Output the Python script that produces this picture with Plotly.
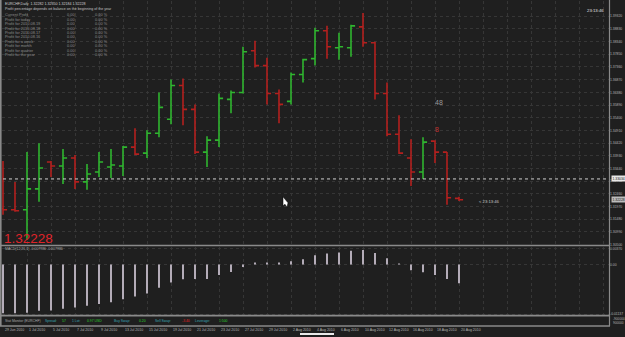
import plotly.graph_objects as go

W, H = 625, 337

# ---------------- data ----------------
bars = list(range(39))
opens = [1.31882, 1.31844, 1.31844, 1.32650, 1.33687, 1.33534, 1.33841, 1.32919, 1.33303, 1.33495,
         1.33534, 1.34263, 1.34033, 1.34801, 1.35338, 1.36644, 1.35722, 1.34071, 1.34532, 1.36106,
         1.36375, 1.37988, 1.37412, 1.36337, 1.36030, 1.37066, 1.37681, 1.38756, 1.38103, 1.38103,
         1.38910, 1.38295, 1.36337, 1.34762, 1.33841, 1.33303, 1.34494, 1.34071, 1.32282]
highs = [1.33726, 1.32919, 1.34071, 1.34417, 1.33726, 1.34186, 1.33956, 1.33610, 1.34071, 1.34186,
         1.34302, 1.34993, 1.34916, 1.36375, 1.36874, 1.36913, 1.35914, 1.34686, 1.36337, 1.36452,
         1.38142, 1.38372, 1.37719, 1.36490, 1.37143, 1.37681, 1.38871, 1.38948, 1.38679, 1.38986,
         1.39447, 1.38334, 1.36759, 1.35492, 1.34570, 1.34647, 1.34532, 1.34071, 1.32350]
lows = [1.31652, 1.31767, 1.30692, 1.32151, 1.33111, 1.32842, 1.32650, 1.32612, 1.33111, 1.33073,
        1.33150, 1.33956, 1.33841, 1.34647, 1.35146, 1.35108, 1.33994, 1.33495, 1.34263, 1.35569,
        1.36337, 1.37335, 1.35914, 1.35185, 1.35914, 1.36759, 1.37412, 1.37681, 1.37642, 1.37758,
        1.38142, 1.36106, 1.34686, 1.33994, 1.32766, 1.33034, 1.33649, 1.32036, 1.32184]
closes = [1.31844, 1.31806, 1.32650, 1.33457, 1.33534, 1.33841, 1.32919, 1.33226, 1.33687, 1.33572,
          1.34263, 1.33994, 1.34801, 1.35799, 1.36644, 1.35722, 1.34071, 1.34532, 1.36145, 1.36375,
          1.37950, 1.37412, 1.36337, 1.35914, 1.37066, 1.37642, 1.38756, 1.38142, 1.38142, 1.38948,
          1.38295, 1.36337, 1.34762, 1.34033, 1.33303, 1.34455, 1.34071, 1.32305, 1.32228]
macd = [-0.0111, -0.0111, -0.0110, -0.01055, -0.0105, -0.0101, -0.0098, -0.0094, -0.0090, -0.0086,
        -0.0079, -0.0073, -0.0066, -0.0053, -0.0041, -0.0034, -0.0033, -0.0033, -0.0024, -0.0017,
        -0.0006, 0.0003, 0.0003, 0.0004, 0.00075, 0.0012, 0.0021, 0.0025, 0.0027, 0.0031,
        0.0033, 0.0026, 0.0014, 0.0002, -0.0013, -0.0018, -0.0024, -0.0033, -0.0043]

date_labels = ["29 Jun 2010", "1 Jul 2010", "5 Jul 2010", "7 Jul 2010", "9 Jul 2010", "13 Jul 2010",
               "15 Jul 2010", "19 Jul 2010", "21 Jul 2010", "23 Jul 2010", "27 Jul 2010", "29 Jul 2010",
               "2 Aug 2010", "4 Aug 2010", "6 Aug 2010", "10 Aug 2010", "12 Aug 2010", "16 Aug 2010",
               "18 Aug 2010", "20 Aug 2010"]
date_label_bars = [0, 2, 4, 6, 8, 10, 12, 14, 16, 18, 20, 22, 24, 26, 28, 30, 32, 34, 36, 38]

price_ticks = [1.30500, 1.30990, 1.31480, 1.31970, 1.32460, 1.32950, 1.33440, 1.33930, 1.34420,
               1.34910, 1.35400, 1.35890, 1.36380, 1.36870, 1.37360, 1.37850, 1.38340, 1.38830, 1.39320]
macd_ticks = [0.0036, 0.0, -0.0113]
macd_tick_text = ["0.00370", "0.00", "-0.01137"]
hline_level = 1.33034
last_price = 1.32228

table_rows = ["Current Profit", "Profit for today", "Profit for 2010.08.19", "Profit for 2010.08.18",
              "Profit for 2010.08.17", "Profit for 2010.08.16", "Profit for a week", "Profit for month",
              "Profit for quarter", "Profit for the year"]
table_vals = ["0.00"] * 10
table_pcts = ["0.00 %"] * 10

# ---------------- helpers ----------------
def px(x):
    return x / W

def py(y):
    return 1 - y / H

BG = "#1f1f1f"
GRID = "#363636"
GREEN = "#2fb52f"
RED = "#b3201e"
FONT = "Liberation Sans"

fig = go.Figure()
fig.add_trace(go.Ohlc(
    x=bars, open=opens, high=highs, low=lows, close=closes,
    increasing=dict(line=dict(color=GREEN, width=1.6)),
    decreasing=dict(line=dict(color=RED, width=1.6)),
    tickwidth=0.34, hoverinfo="skip", xaxis="x", yaxis="y"))
fig.add_trace(go.Bar(x=bars, y=macd, width=0.13, marker=dict(color="#b4acb8", line=dict(width=0)),
                     hoverinfo="skip", xaxis="x2", yaxis="y2"))

xr = [-0.083, 50.5]
xdom = [px(2), px(609)]
fig.update_layout(
    width=W, height=H, margin=dict(l=0, r=0, t=0, b=0),
    paper_bgcolor=BG, plot_bgcolor=BG, showlegend=False,
    font=dict(family=FONT, color="#b8b8b8", size=4),
    xaxis=dict(domain=xdom, range=xr, anchor="y", rangeslider=dict(visible=False),
               tickvals=list(range(0, 51, 2)), showticklabels=False, ticks="",
               showgrid=True, gridcolor=GRID, griddash="dot", gridwidth=1, zeroline=False),
    yaxis=dict(domain=[py(246), py(1)], range=[1.3050, 1.39908], side="right", anchor="x",
               tickvals=price_ticks, ticktext=["%.5f" % v for v in price_ticks],
               tickfont=dict(size=3.4, color="#b4b4b4"), ticks="",
               showgrid=True, gridcolor=GRID, griddash="dot", gridwidth=1, zeroline=False),
    xaxis2=dict(domain=xdom, range=xr, anchor="y2", matches="x",
                tickvals=list(range(0, 51, 2)), showticklabels=False, ticks="",
                showgrid=True, gridcolor=GRID, griddash="dot", gridwidth=1, zeroline=False),
    yaxis2=dict(domain=[py(317), py(248)], range=[-0.01153, 0.00407], side="right", anchor="x2",
                tickvals=macd_ticks, ticktext=macd_tick_text,
                tickfont=dict(size=3.4, color="#b4b4b4"), ticks="",
                showgrid=True, gridcolor=GRID, griddash="dot", gridwidth=1, zeroline=False),
)

shapes = []
# pane borders
for yy in (247, 317.5, 328):
    shapes.append(dict(type="line", xref="paper", yref="paper", x0=0, x1=px(610), y0=py(yy), y1=py(yy),
                       line=dict(color="#8a8a8a", width=1.6)))
shapes.append(dict(type="line", xref="paper", yref="paper", x0=px(609.5), x1=px(609.5), y0=py(0), y1=py(328),
                   line=dict(color="#8a8a8a", width=1.2)))
shapes.append(dict(type="line", xref="paper", yref="paper", x0=px(0.8), x1=px(0.8), y0=py(0), y1=py(328),
                   line=dict(color="#8a8a8a", width=1.6)))
# horizontal dotted level line
shapes.append(dict(type="line", xref="paper", yref="y", x0=px(3), x1=px(609), y0=hline_level, y1=hline_level,
                   line=dict(color="#d0d0d0", width=1, dash="dot")))
# mouse cursor
shapes.append(dict(type="path", xref="paper", yref="paper",
                   path="M %f,%f L %f,%f L %f,%f L %f,%f L %f,%f Z" % (
                       px(283), py(198), px(283), py(207), px(285), py(205.5), px(287), py(208.5), px(288), py(204)),
                   fillcolor="white", line=dict(color="#000000", width=0.5)))
# white strip at bottom
shapes.append(dict(type="rect", xref="paper", yref="paper", x0=px(300), x1=px(334), y0=py(337), y1=py(335),
                   fillcolor="#e8e8e8", line=dict(width=0)))
fig.update_layout(shapes=shapes)

ann = []
def T(x, y, text, size=4, color="#b8b8b8", xanchor="left"):
    ann.append(dict(x=px(x), y=py(y), xref="paper", yref="paper", text=text,
                    showarrow=False, xanchor=xanchor, yanchor="middle",
                    font=dict(size=size, color=color, family=FONT)))

T(3, 4, "EURCHF,Daily  1.32282 1.32350 1.32184 1.32228", 3.6, "#d0d0d0")
T(3, 9, "Profit percentage depends on balance on the beginning of the year", 3.6, "#c0c0c0")
for k, (lab, v, p) in enumerate(zip(table_rows, table_vals, table_pcts)):
    yy = 14.7 + 4.5 * k
    T(3, yy, lab, 3.9, "#8c8c8c")
    T(65, yy, v, 3.9, "#8c8c8c")
    T(93, yy, p, 3.9, "#8c8c8c")
T(2, 239.5, "1.32228", 13.5, "#e0242a")
T(585, 11, "23:13:46", 4.3, "#e0e0e0")
T(433, 103, "48", 7, "#9a9a9a")
T(433, 130.5, "8", 7, "#c03030")
T(477, 203, "&lt; 23:13:46", 4.2, "#c8c8c8")
T(3, 250.5, "MACD(12,26,1) -0.007986 -0.007986", 3.5, "#b0b0b0")
# highlighted axis labels
ann.append(dict(x=px(611), y=hline_level, xref="paper", yref="y", text="%.5f" % hline_level, showarrow=False,
                xanchor="left", yanchor="middle", bgcolor="#e8e8e8", borderpad=0.5,
                font=dict(size=3.4, color="#202020", family=FONT)))
ann.append(dict(x=px(611), y=last_price, xref="paper", yref="y", text="%.5f" % last_price, showarrow=False,
                xanchor="left", yanchor="middle", bgcolor="#bcbcbc", borderpad=0.5,
                font=dict(size=3.4, color="#202020", family=FONT)))
# status pane
TEAL, SG, SR = "#3aa3b0", "#2ccc2c", "#e02020"
status = [("Stat Monitor (EURCHF)", "#a8a8a8", 3), ("Spread:", TEAL, 43), ("57", SG, 60), ("1 Lot:", TEAL, 70),
          ("0.97 USD", SG, 85), ("Buy Swap:", TEAL, 112), ("0.20", SG, 137), ("Sell Swap:", TEAL, 153),
          ("-3.40", SR, 180), ("Leverage:", TEAL, 193), ("1:500", SG, 217)]
for txt, col, xx in status:
    T(xx, 322.7, txt, 3.4, col)
T(611, 321, "-900000", 3.2, "#b4b4b4")
T(611, 325, "900000", 3.2, "#b4b4b4")
# date labels
for lab, b in zip(date_labels, date_label_bars):
    ann.append(dict(x=b, y=py(332), xref="x", yref="paper", text=lab, showarrow=False,
                    xanchor="left", yanchor="middle", font=dict(size=3.5, color="#b4b4b4", family=FONT)))
fig.update_layout(annotations=ann)

fig.write_html("out.html")
